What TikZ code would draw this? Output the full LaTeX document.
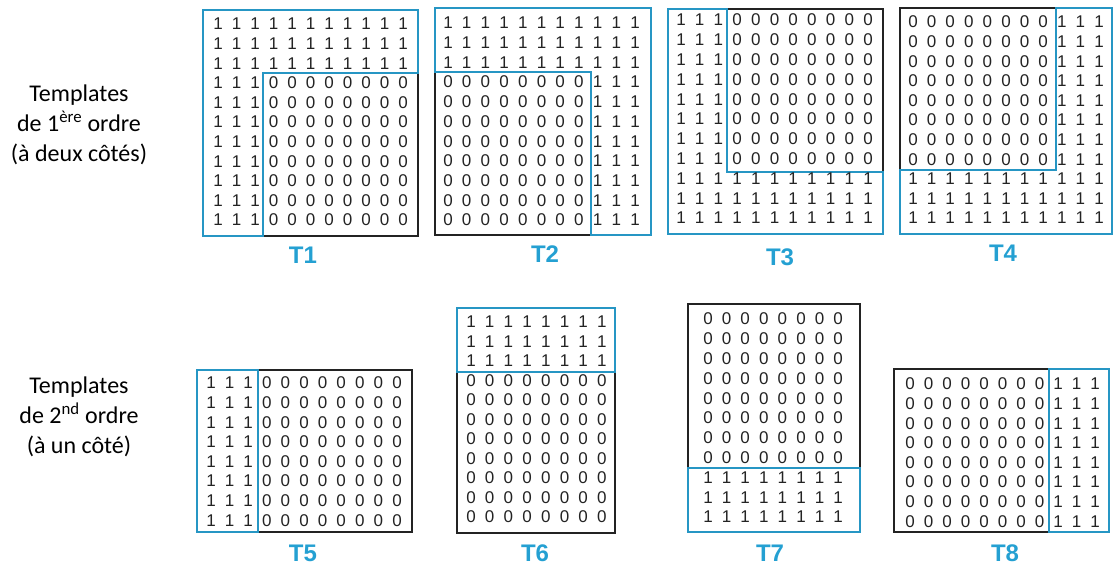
\documentclass[tikz,border=0pt]{standalone}
\usepackage{fontspec}
\setmainfont{Liberation Sans}
\newfontfamily\calib{Carlito}
\newfontfamily\arialike{Liberation Sans}
\definecolor{tblue}{RGB}{38,150,196}
\definecolor{tlab}{RGB}{36,160,210}
\definecolor{tgray}{RGB}{35,35,35}
\newcommand\tgrid[8]{%
  \foreach \ri in {0,...,#7}{\foreach \ci in {0,...,#6}{%
    \pgfmathtruncatemacro\dval{#8}%
    \node[digit] (#1-\ri-\ci) at ({#2+\ci*#3},{#4+\ri*#5}) {\dval};}}}
\begin{document}
\begin{tikzpicture}[x=1pt,y=-1pt,
  digit/.style={inner sep=0pt, font=\arialike\fontsize{17}{17}\selectfont, text=tgray},
  blackline/.style={draw=tgray, line width=1.5pt},
  blueline/.style={draw=tblue, line width=2.4pt, line join=miter},
  tlabel/.style={font=\arialike\fontsize{24}{24}\selectfont\bfseries, text=tlab, inner sep=0pt},
  sidelabel/.style={font=\calib\fontsize{24}{30}\selectfont, align=center}]
\useasboundingbox (0,0) rectangle (1114,568);

% side labels
\node[sidelabel] (L1) at (79,125) {Templates\\de 1\textsuperscript{ère} ordre\\(à deux côtés)};
\node[sidelabel] (L2) at (79,417) {Templates\\de 2\textsuperscript{nd} ordre\\(à un côté)};

% T1
\draw[blackline] (203,10) rectangle (418,236);
\draw[blueline] (203,10) -- (418,10) -- (418,73) -- (263,73) -- (263,236) -- (203,236) -- cycle;
\tgrid{T1}{218}{18.5}{24}{19.6}{10}{10}{(\ri<3)||(\ci<3)}
\node[tlabel] (N1) at (303,255) {T1};

% T2
\draw[blackline] (435,8) rectangle (651,235);
\draw[blueline] (435,8) -- (651,8) -- (651,235) -- (591,235) -- (591,72) -- (435,72) -- cycle;
\tgrid{T2}{448}{18.7}{23}{19.7}{10}{10}{(\ri<3)||(\ci>7)}
\node[tlabel] (N2) at (545,254) {T2};

% T3
\draw[blackline] (668,9) rectangle (883,234);
\draw[blueline] (668,9) -- (727,9) -- (727,172) -- (883,172) -- (883,234) -- (668,234) -- cycle;
\tgrid{T3}{681}{18.7}{20}{19.8}{10}{10}{(\ri>7)||(\ci<3)}
\node[tlabel] (N3) at (780,257) {T3};

% T4
\draw[blackline] (900,8) rectangle (1112,234);
\draw[blueline] (1056,8) -- (1112,8) -- (1112,234) -- (900,234) -- (900,170) -- (1056,170) -- cycle;
\tgrid{T4}{913}{18.6}{22}{19.6}{10}{10}{(\ri>7)||(\ci>7)}
\node[tlabel] (N4) at (1003,253) {T4};

% T5
\draw[blackline] (197,370) rectangle (412,532);
\draw[blueline] (197,370) rectangle (258,532);
\tgrid{T5}{211}{18.6}{383}{19.6}{10}{7}{(\ci<3)}
\node[tlabel] (N5) at (303,553) {T5};

% T6
\draw[blackline] (457,308) rectangle (615,533);
\draw[blueline] (457,308) rectangle (615,372);
\tgrid{T6}{471}{18.7}{322}{19.5}{7}{10}{(\ri<3)}
\node[tlabel] (N6) at (535,553) {T6};

% T7
\draw[blackline] (688,304) rectangle (860,532);
\draw[blueline] (688,468) rectangle (860,532);
\tgrid{T7}{708}{18.6}{319}{19.8}{7}{10}{(\ri>7)}
\node[tlabel] (N7) at (770,553) {T7};

% T8
\draw[blackline] (894,369) rectangle (1109,532);
\draw[blueline] (1049,369) rectangle (1109,532);
\tgrid{T8}{910}{18.5}{384}{19.6}{10}{7}{(\ci>7)}
\node[tlabel] (N8) at (1005,553) {T8};
\end{tikzpicture}
\end{document}
